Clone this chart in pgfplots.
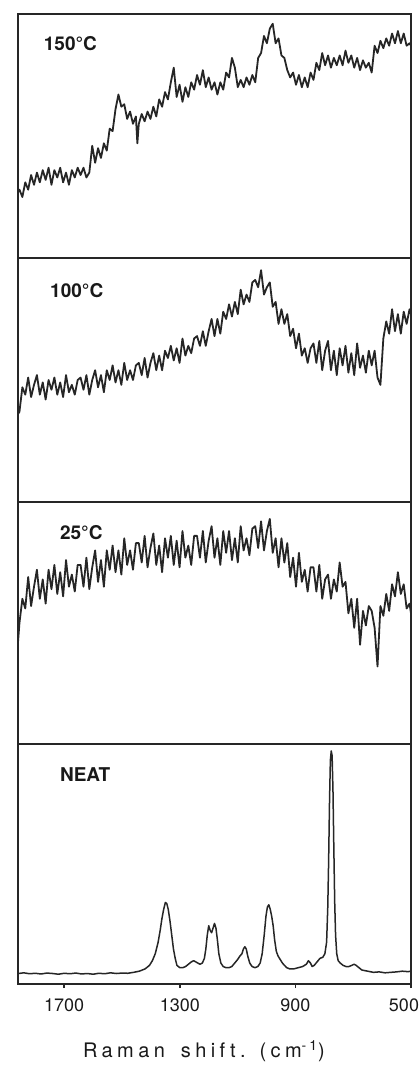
\documentclass[border=0pt]{standalone}
\usepackage{fontspec}
\setmainfont{TeX Gyre Heros}
\usepackage{pgfplots}
\pgfplotsset{compat=1.18}
\tikzset{plab/.style={anchor=west, font=\bfseries\fontsize{9.5}{11}\selectfont, black!90}}
\begin{document}
\begin{tikzpicture}
\pgfplotsset{
  panel/.style={
    scale only axis, width=196.5pt,
    xmin=500, xmax=1850, x dir=reverse, ymin=0, ymax=1,
    xtick=\empty, ytick=\empty,
    axis line style={line width=0.8pt, black!85},
    anchor=south west,
  },
  trace/.style={line width=0.9pt, black!85, line join=round, no marks},
}
\path[use as bounding box] (0,0) rectangle (209.5pt,535pt);
% 150 C
\begin{axis}[panel, height=122pt, at={(9pt,406pt)}]
\addplot[trace] coordinates {(1850,0.27)(1845,0.28)(1835,0.25)(1825,0.31)(1815,0.28)(1805,0.34)(1795,0.30)(1785,0.35)(1775,0.31)(1765,0.36)(1755,0.32)(1745,0.37)(1735,0.30)(1725,0.36)(1715,0.33)(1705,0.37)(1695,0.31)(1685,0.35)(1675,0.30)(1665,0.36)(1655,0.33)(1645,0.37)(1635,0.34)(1625,0.37)(1615,0.33)(1605,0.35)(1595,0.46)(1585,0.39)(1575,0.45)(1565,0.41)(1555,0.47)(1545,0.44)(1535,0.53)(1525,0.52)(1515,0.61)(1505,0.67)(1495,0.62)(1485,0.63)(1475,0.57)(1465,0.60)(1455,0.55)(1445,0.58)(1440,0.47)(1435,0.55)(1425,0.59)(1415,0.56)(1405,0.60)(1395,0.57)(1385,0.62)(1375,0.58)(1365,0.65)(1355,0.62)(1345,0.68)(1335,0.65)(1325,0.72)(1315,0.78)(1305,0.66)(1295,0.71)(1285,0.64)(1275,0.70)(1265,0.66)(1255,0.72)(1245,0.69)(1235,0.75)(1225,0.71)(1215,0.77)(1205,0.70)(1195,0.74)(1185,0.69)(1175,0.72)(1165,0.67)(1155,0.72)(1145,0.69)(1135,0.76)(1125,0.74)(1115,0.82)(1105,0.78)(1095,0.70)(1085,0.73)(1075,0.70)(1065,0.74)(1055,0.71)(1045,0.75)(1035,0.72)(1025,0.82)(1015,0.84)(1005,0.91)(995,0.88)(985,0.94)(975,0.96)(965,0.88)(955,0.90)(945,0.83)(935,0.82)(925,0.77)(915,0.74)(905,0.76)(895,0.71)(885,0.75)(875,0.70)(865,0.74)(855,0.70)(845,0.76)(835,0.73)(825,0.80)(815,0.77)(805,0.84)(795,0.79)(785,0.83)(775,0.78)(765,0.82)(755,0.79)(745,0.83)(735,0.79)(725,0.85)(715,0.80)(705,0.83)(695,0.78)(685,0.82)(675,0.77)(665,0.81)(655,0.78)(645,0.80)(635,0.76)(625,0.87)(615,0.84)(605,0.89)(595,0.86)(585,0.90)(575,0.87)(565,0.92)(555,0.88)(545,0.93)(535,0.88)(525,0.92)(515,0.87)(505,0.88)(500,0.87)};
\node[plab] at (rel axis cs:0.048,0.88) {150°C};
\end{axis}
% 100 C
\begin{axis}[panel, height=122pt, at={(9pt,284pt)}]
\addplot[trace] coordinates {(1850,0.36)(1845,0.37)(1835,0.47)(1825,0.44)(1815,0.51)(1805,0.43)(1795,0.48)(1785,0.52)(1775,0.44)(1765,0.49)(1755,0.42)(1745,0.50)(1735,0.46)(1725,0.51)(1715,0.44)(1705,0.49)(1695,0.43)(1685,0.52)(1675,0.45)(1665,0.48)(1655,0.44)(1645,0.50)(1635,0.51)(1625,0.46)(1615,0.52)(1605,0.44)(1595,0.50)(1585,0.54)(1575,0.47)(1565,0.52)(1555,0.45)(1545,0.54)(1535,0.50)(1525,0.56)(1515,0.49)(1505,0.54)(1495,0.48)(1485,0.57)(1475,0.50)(1465,0.54)(1455,0.50)(1445,0.56)(1435,0.57)(1425,0.52)(1415,0.59)(1405,0.51)(1395,0.57)(1385,0.61)(1375,0.54)(1365,0.60)(1355,0.54)(1345,0.62)(1335,0.59)(1325,0.64)(1315,0.58)(1305,0.63)(1295,0.57)(1285,0.67)(1275,0.60)(1265,0.64)(1255,0.61)(1245,0.67)(1235,0.68)(1225,0.64)(1215,0.70)(1205,0.64)(1195,0.70)(1185,0.75)(1175,0.68)(1165,0.75)(1155,0.69)(1145,0.78)(1135,0.75)(1125,0.81)(1115,0.76)(1105,0.82)(1095,0.77)(1085,0.87)(1075,0.81)(1065,0.85)(1055,0.82)(1045,0.90)(1035,0.91)(1025,0.88)(1015,0.95)(1005,0.85)(995,0.88)(985,0.90)(975,0.80)(965,0.82)(955,0.73)(945,0.79)(935,0.73)(925,0.77)(915,0.68)(905,0.71)(895,0.63)(885,0.69)(875,0.60)(865,0.63)(855,0.57)(845,0.63)(835,0.65)(825,0.57)(815,0.66)(805,0.54)(795,0.62)(785,0.66)(775,0.54)(765,0.62)(755,0.52)(745,0.63)(735,0.56)(725,0.64)(715,0.53)(705,0.61)(695,0.52)(685,0.65)(675,0.55)(665,0.60)(655,0.53)(645,0.62)(635,0.56)(625,0.62)(615,0.51)(605,0.48)(595,0.67)(585,0.74)(575,0.69)(565,0.79)(555,0.70)(545,0.77)(535,0.69)(525,0.78)(515,0.73)(505,0.79)(500,0.77)};
\node[plab] at (rel axis cs:0.064,0.865) {100°C};
\end{axis}
% 25 C
\begin{axis}[panel, height=121pt, at={(9pt,163pt)}]
\addplot[trace] coordinates {(1850,0.42)(1845,0.50)(1835,0.60)(1825,0.56)(1815,0.69)(1805,0.57)(1795,0.65)(1785,0.72)(1775,0.60)(1765,0.68)(1755,0.58)(1745,0.72)(1735,0.64)(1725,0.74)(1715,0.62)(1705,0.71)(1695,0.61)(1685,0.76)(1675,0.65)(1665,0.70)(1655,0.63)(1645,0.74)(1635,0.74)(1625,0.65)(1615,0.77)(1605,0.64)(1595,0.73)(1585,0.80)(1575,0.67)(1565,0.76)(1555,0.65)(1545,0.80)(1535,0.72)(1525,0.82)(1515,0.71)(1505,0.80)(1495,0.70)(1485,0.85)(1475,0.74)(1465,0.80)(1455,0.72)(1445,0.83)(1435,0.83)(1425,0.75)(1415,0.86)(1405,0.73)(1395,0.81)(1385,0.87)(1375,0.74)(1365,0.82)(1355,0.71)(1345,0.85)(1335,0.77)(1325,0.86)(1315,0.74)(1305,0.84)(1295,0.73)(1285,0.88)(1275,0.77)(1265,0.82)(1255,0.74)(1245,0.86)(1235,0.86)(1225,0.77)(1215,0.88)(1205,0.75)(1195,0.84)(1185,0.90)(1175,0.77)(1165,0.85)(1155,0.74)(1145,0.88)(1135,0.79)(1125,0.88)(1115,0.76)(1105,0.85)(1095,0.75)(1085,0.90)(1075,0.80)(1065,0.85)(1055,0.78)(1045,0.89)(1035,0.90)(1025,0.81)(1015,0.92)(1005,0.80)(995,0.88)(985,0.93)(975,0.79)(965,0.85)(955,0.73)(945,0.85)(935,0.75)(925,0.83)(915,0.69)(905,0.77)(895,0.65)(885,0.79)(875,0.67)(865,0.72)(855,0.63)(845,0.73)(835,0.73)(825,0.63)(815,0.74)(805,0.60)(795,0.68)(785,0.70)(775,0.60)(765,0.68)(755,0.63)(745,0.75)(735,0.65)(725,0.67)(715,0.54)(705,0.60)(695,0.48)(685,0.60)(675,0.41)(665,0.55)(655,0.49)(645,0.57)(635,0.55)(625,0.48)(615,0.32)(605,0.57)(595,0.53)(585,0.62)(575,0.55)(565,0.66)(555,0.61)(545,0.71)(535,0.62)(525,0.66)(515,0.56)(505,0.58)(500,0.54)};
\node[plab] at (rel axis cs:0.089,0.873) {25°C};
\end{axis}
% NEAT
\begin{axis}[panel, height=120pt, at={(9pt,43pt)}, xmax=1860, ymin=-0.03,
  xtick={900,1300,1700}, xticklabels={900,1300,1700},
  extra x ticks={500}, extra x tick labels={500},
  extra x tick style={xticklabel style={xshift=-3.5pt}},
  xtick pos=bottom, tick align=outside, major tick length=2pt,
  tick style={line width=0.8pt, black!85},
  xticklabel style={font=\fontsize{9}{10}\selectfont, black!90, yshift=-2pt},
  /pgf/number format/assume math mode=true]
\addplot[trace, line width=0.75pt] coordinates {(1858,0.015)(1840,0.018)(1820,0.014)(1800,0.016)(1780,0.013)(1760,0.017)(1740,0.015)(1720,0.012)(1700,0.016)(1680,0.014)(1660,0.017)(1640,0.013)(1620,0.015)(1600,0.012)(1580,0.016)(1560,0.014)(1540,0.018)(1520,0.015)(1500,0.017)(1480,0.016)(1460,0.02)(1440,0.025)(1420,0.035)(1405,0.05)(1395,0.07)(1385,0.10)(1375,0.15)(1368,0.20)(1362,0.25)(1356,0.29)(1350,0.32)(1345,0.315)(1340,0.29)(1334,0.24)(1328,0.18)(1322,0.12)(1316,0.08)(1310,0.05)(1300,0.04)(1290,0.04)(1280,0.045)(1270,0.055)(1260,0.065)(1252,0.07)(1245,0.065)(1238,0.06)(1230,0.055)(1222,0.06)(1215,0.08)(1210,0.12)(1205,0.18)(1200,0.22)(1195,0.20)(1190,0.19)(1185,0.21)(1180,0.23)(1175,0.21)(1170,0.16)(1165,0.10)(1158,0.06)(1150,0.045)(1140,0.04)(1130,0.04)(1120,0.045)(1110,0.06)(1100,0.075)(1092,0.09)(1085,0.10)(1080,0.12)(1075,0.13)(1070,0.12)(1065,0.09)(1058,0.06)(1050,0.045)(1040,0.04)(1030,0.045)(1022,0.06)(1015,0.10)(1008,0.18)(1002,0.26)(997,0.30)(992,0.31)(987,0.29)(982,0.26)(977,0.22)(972,0.16)(966,0.11)(960,0.09)(955,0.08)(950,0.07)(945,0.06)(938,0.05)(930,0.04)(920,0.035)(905,0.035)(890,0.04)(875,0.045)(862,0.055)(855,0.07)(848,0.06)(842,0.045)(835,0.05)(825,0.065)(815,0.08)(805,0.085)(798,0.10)(792,0.15)(788,0.30)(785,0.50)(782,0.75)(779,0.93)(776,0.97)(773,0.95)(770,0.80)(767,0.55)(764,0.32)(761,0.18)(757,0.10)(752,0.07)(745,0.06)(735,0.05)(725,0.045)(715,0.045)(705,0.05)(697,0.055)(690,0.05)(680,0.04)(670,0.03)(650,0.025)(630,0.02)(610,0.022)(590,0.018)(570,0.02)(550,0.022)(530,0.025)(510,0.023)(500,0.025)};
\node[plab] at (rel axis cs:0.089,0.871) {NEAT};
\end{axis}
\node[font=\fontsize{10}{12}\selectfont\addfontfeatures{LetterSpace=22}, black!90] at (102pt,9.5pt) {Raman\ \hspace{3pt}shift.\ \hspace{2pt}(cm\textsuperscript{-1})};
\end{tikzpicture}
\end{document}
